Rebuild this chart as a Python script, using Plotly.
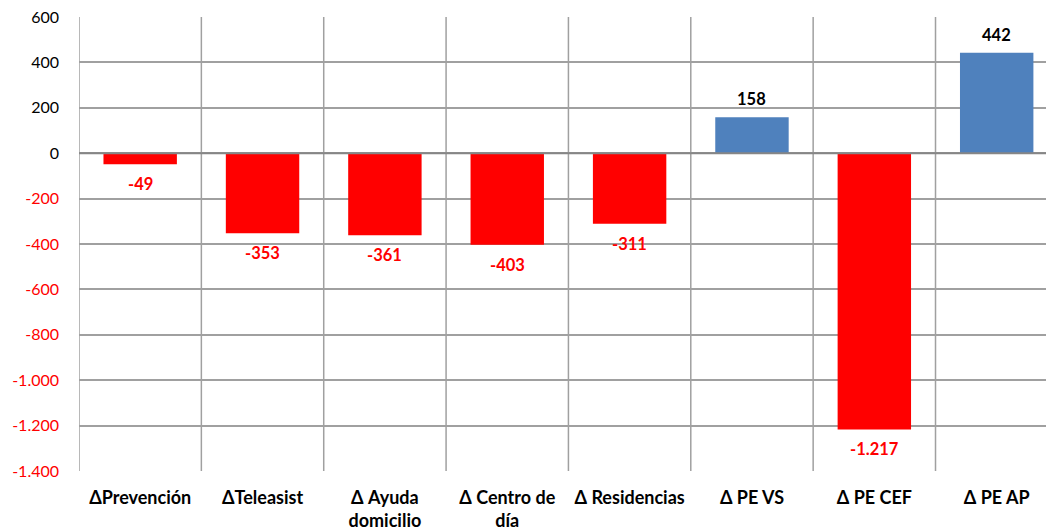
import plotly.graph_objects as go

# Variation per service line
categories = ["ΔPrevención", "ΔTeleasist", "Δ Ayuda<br>domicilio", "Δ Centro de<br>día",
              "Δ Residencias", "Δ PE VS", "Δ PE CEF", "Δ PE AP"]
values = [-49, -353, -361, -403, -311, 158, -1217, 442]

y_ticks = [-1400, -1200, -1000, -800, -600, -400, -200, 0, 200, 400, 600]

RED = "#FF0000"
BLUE = "#4F81BD"
GRID = "#A0A0A0"
FONT = "Lato"

x_pos = list(range(len(categories)))
bar_colors = [RED if v < 0 else BLUE for v in values]


def fmt_thousands(v):
    return f"{v:,}".replace(",", ".")


tick_text = [
    f'<span style="color:{RED}">{fmt_thousands(t)}</span>' if t < 0 else fmt_thousands(t)
    for t in y_ticks
]

fig = go.Figure()
fig.add_trace(go.Bar(
    x=x_pos,
    y=values,
    width=0.6,
    marker=dict(color=bar_colors, line=dict(width=0)),
    hoverinfo="skip",
))

# Value labels just beyond the end of each bar
annotations = []
for xp, v in zip(x_pos, values):
    neg = v < 0
    annotations.append(dict(
        x=xp, y=v, xref="x", yref="y",
        text=f"<b>{fmt_thousands(v)}</b>",
        showarrow=False,
        yanchor="top" if neg else "bottom",
        yshift=-8 if neg else 6,
        font=dict(family=FONT, size=16.5, color=RED if neg else "#000000"),
    ))

# Category separators
shapes = []
for k in range(len(categories) + 1):
    shapes.append(dict(type="line", xref="x", yref="paper", x0=k - 0.5, x1=k - 0.5,
                       y0=0, y1=1, line=dict(color=GRID, width=1.5), layer="below"))
# Zero baseline on top of the bars
shapes.append(dict(type="line", xref="paper", yref="y", x0=0, x1=1, y0=0, y1=0,
                   line=dict(color="#868686", width=2), layer="above"))

fig.update_layout(
    width=1046,
    height=531,
    margin=dict(l=79, r=0, t=17, b=60),
    plot_bgcolor="white",
    paper_bgcolor="white",
    showlegend=False,
    shapes=shapes,
    annotations=annotations,
    font=dict(family=FONT, size=16, color="#000000"),
    xaxis=dict(
        range=[-0.5, 7.403],
        tickvals=x_pos,
        ticktext=[f"<b>{c}</b>" for c in categories],
        showgrid=False,
        zeroline=False,
        ticks="",
        ticklabelstandoff=14,
        tickfont=dict(family=FONT, size=18, color="#000000"),
        showline=False,
    ),
    yaxis=dict(
        range=[-1400, 600],
        tickvals=y_ticks,
        ticktext=tick_text,
        showgrid=True,
        gridcolor=GRID,
        gridwidth=1.5,
        zeroline=False,
        ticks="",
        ticklabelstandoff=19,
        tickfont=dict(family=FONT, size=16, color="#000000"),
        showline=False,
    ),
)

fig.write_html("out.html")
